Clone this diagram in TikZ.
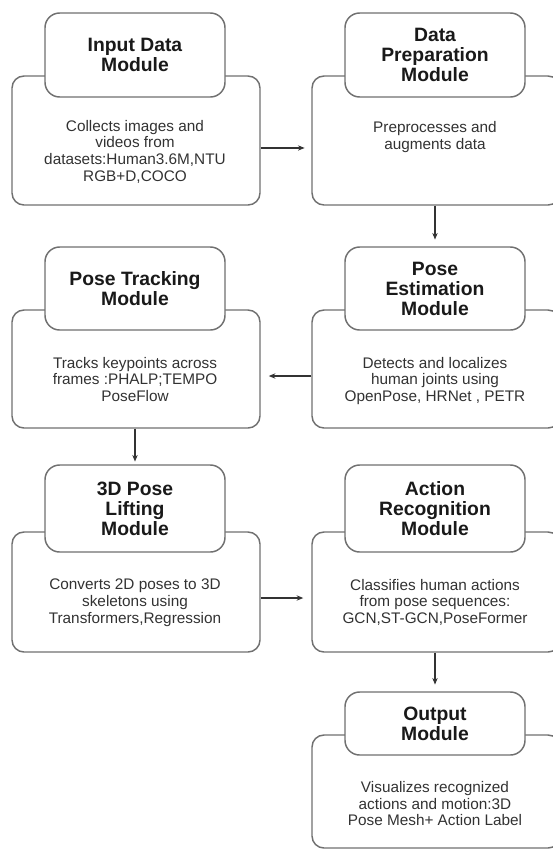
\documentclass[tikz,border=0pt]{standalone}
\usepackage{fontspec}
\setmainfont{Liberation Sans}
\usetikzlibrary{arrows.meta, positioning}
\definecolor{boxline}{RGB}{112,112,112}
\definecolor{txtdark}{RGB}{25,25,25}
\definecolor{txtbody}{RGB}{50,50,50}

\begin{document}
\begin{tikzpicture}[x=0.75pt, y=-0.75pt,
  body/.style={rectangle, rounded corners=9pt, draw=boxline, line width=1.1pt,
              minimum width=186pt, inner sep=0pt},
  head/.style={rectangle, rounded corners=11pt, draw=boxline, line width=1.1pt, fill=white,
              minimum width=135pt, inner sep=0pt, align=center, text=txtdark,
              font=\fontsize{14.5}{15}\selectfont\bfseries},
  desc/.style={align=center, inner sep=0pt, text=txtbody, font=\fontsize{11.5}{12.5}\selectfont},
  arr/.style={-{Stealth[length=5pt,width=4pt]}, line width=0.8pt, draw=black!80}
]
  \useasboundingbox (0,0) rectangle (553,850);
  \clip (0,0) rectangle (553,850);

  % Module bodies
  \node[body, minimum height=96.75pt] (inbody) at (136,140.5) {};
  \node[body, minimum height=96.75pt] (prepbody) at (436,140.5) {};
  \node[body, minimum height=88.5pt] (trackbody) at (136,369) {};
  \node[body, minimum height=88.5pt] (estbody) at (436,369) {};
  \node[body, minimum height=90pt] (liftbody) at (136,592) {};
  \node[body, minimum height=90pt] (actbody) at (436,592) {};
  \node[body, minimum height=84.75pt] (outbody) at (436,791.5) {};

  % Module titles
  \node[head, minimum height=63pt] (inhead) at (135,55) {Input Data\\Module};
  \node[head, minimum height=63pt] (prephead) at (435,55) {Data\\Preparation\\Module};
  \node[head, minimum height=62.25pt] (trackhead) at (135,288.5) {Pose Tracking\\Module};
  \node[head, minimum height=62.25pt] (esthead) at (435,288.5) {Pose\\Estimation\\Module};
  \node[head, minimum height=65.25pt] (lifthead) at (135,508.5) {3D Pose\\Lifting\\Module};
  \node[head, minimum height=65.25pt] (acthead) at (435,508.5) {Action\\Recognition\\Module};
  \node[head, minimum height=47.25pt] (outhead) at (435,723.5) {Output\\Module};

  % Descriptions
  \node[desc, below=16.5pt of inhead] (intext)
    {Collects images and\\videos from\\datasets:Human3.6M,NTU\\RGB+D,COCO};
  \node[desc, below=17.5pt of prephead] (preptext)
    {Preprocesses and\\augments data};
  \node[desc, below=19.5pt of trackhead] (tracktext)
    {Tracks keypoints across\\frames :PHALP;TEMPO\\PoseFlow};
  \node[desc, below=19.5pt of esthead] (esttext)
    {Detects and localizes\\human joints using\\OpenPose, HRNet , PETR};
  \node[desc, below=19.5pt of lifthead] (lifttext)
    {Converts 2D poses to 3D\\skeletons using\\Transformers,Regression};
  \node[desc, below=19.5pt of acthead] (acttext)
    {Classifies human actions\\from pose sequences:\\GCN,ST-GCN,PoseFormer};
  \node[desc, below=19pt of outhead] (outtext)
    {Visualizes recognized\\actions and motion:3D\\Pose Mesh+ Action Label};

  % Flow
  \draw[arr, shorten >=5pt] ([yshift=-5.6pt]inbody.east) -- ([yshift=-5.6pt]prepbody.west);
  \draw[arr, shorten >=5pt] (esthead.north |- prepbody.south) -- (esthead.north);
  \draw[arr, shorten >=6pt] ([yshift=-5.25pt]estbody.west) -- ([yshift=-5.25pt]trackbody.east);
  \draw[arr, shorten >=2pt] (lifthead.north |- trackbody.south) -- (lifthead.north);
  \draw[arr, shorten >=6pt] ([yshift=-4.5pt]liftbody.east) -- ([yshift=-4.5pt]actbody.west);
  \draw[arr, shorten >=5pt] (outhead.north |- actbody.south) -- (outhead.north);
\end{tikzpicture}
\end{document}
